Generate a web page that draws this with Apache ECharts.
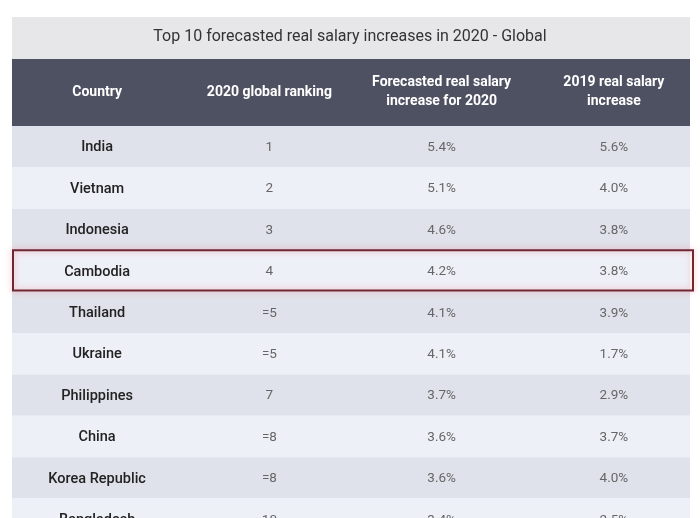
<!DOCTYPE html>
<html>
<head>
<meta charset="utf-8">
<script src="https://cdn.jsdelivr.net/npm/echarts@6/dist/echarts.min.js"></script>
<style>
html,body{margin:0;padding:0;background:#fff;}
#chart{width:700px;height:518px;}
</style>
</head>
<body>
<div id="chart"></div>
<script>
const chartTitle = 'Top 10 forecasted real salary increases in 2020 - Global';
const columns = ['Country', '2020 global ranking', 'Forecasted real salary\nincrease for 2020', '2019 real salary\nincrease'];
const countries = ['India', 'Vietnam', 'Indonesia', 'Cambodia', 'Thailand', 'Ukraine', 'Philippines', 'China', 'Korea Republic', 'Bangladesh'];
const rankings = ['1', '2', '3', '4', '=5', '=5', '7', '=8', '=8', '10'];
const forecast2020 = [5.4, 5.1, 4.6, 4.2, 4.1, 4.1, 3.7, 3.6, 3.6, 3.4];
const real2019 = [5.6, 4.0, 3.8, 3.8, 3.9, 1.7, 2.9, 3.7, 4.0, 2.5];
const highlighted = ['Cambodia'];

const FONT = 'Roboto, "Open Sans", sans-serif';

const rowData = countries.map((c, i) => [0, i]);
const highlightData = highlighted.map(c => [0, countries.indexOf(c)]);
const cellData = [];
countries.forEach((c, i) => {
  cellData.push([0, i, c, 1]);
  cellData.push([1, i, rankings[i], 0]);
  cellData.push([2, i, forecast2020[i].toFixed(1) + '%', 0]);
  cellData.push([3, i, real2019[i].toFixed(1) + '%', 0]);
});

const chart = echarts.init(document.getElementById('chart'), null, {renderer: 'canvas'});
chart.setOption({
  animation: false,
  backgroundColor: '#ffffff',
  title: {
    text: chartTitle,
    left: 'center',
    top: 29,
    padding: 0,
    textStyle: {fontFamily: FONT, fontSize: 16, fontWeight: 'normal', color: '#333333'}
  },
  graphic: [
    {type: 'rect', left: 12, top: 17, z: -10, shape: {width: 678, height: 42}, style: {fill: '#e7e7e9'}},
    {type: 'rect', left: 12, top: 59, z: -10, shape: {width: 678, height: 67}, style: {fill: '#4d5162'}}
  ],
  grid: [
    {left: 12, right: 10, top: 126, height: 414, containLabel: false, outerBoundsMode: 'none'},
    {left: 11, right: 0, top: 127, height: 414, containLabel: false, outerBoundsMode: 'none'}
  ],
  xAxis: [
    {gridIndex: 0, type: 'category', data: columns, show: false},
    {gridIndex: 1, type: 'category', data: columns, position: 'top', z: 10,
      axisLine: {show: false}, axisTick: {show: false}, splitLine: {show: false},
      axisLabel: {interval: 0, margin: 35, verticalAlign: 'middle', color: '#ffffff',
        fontFamily: FONT, fontSize: 14, fontWeight: 'bold', lineHeight: 19}}
  ],
  yAxis: [
    {gridIndex: 0, type: 'category', data: countries, inverse: true, show: false},
    {gridIndex: 1, type: 'category', data: countries, inverse: true, show: false}
  ],
  series: [
    {
      type: 'custom', xAxisIndex: 0, yAxisIndex: 0, z: 1, silent: true,
      data: rowData,
      renderItem: function (params, api) {
        const cs = params.coordSys;
        const p = api.coord([api.value(0), api.value(1)]);
        const h = api.size([0, 1])[1];
        return {type: 'rect', shape: {x: cs.x, y: p[1] - h / 2, width: cs.width, height: h},
          style: {fill: api.value(1) % 2 === 0 ? '#dfe2ea' : '#eef0f7'}};
      }
    },
    {
      type: 'custom', xAxisIndex: 0, yAxisIndex: 0, z: 3, silent: true,
      data: highlightData,
      renderItem: function (params, api) {
        const cs = params.coordSys;
        const p = api.coord([api.value(0), api.value(1)]);
        const h = api.size([0, 1])[1];
        return {type: 'rect', shape: {x: cs.x + 1, y: p[1] - h / 2, width: cs.width + 2, height: h - 1},
          style: {fill: 'none', stroke: '#6e2833', lineWidth: 2, shadowBlur: 6, shadowColor: 'rgba(255,90,110,0.55)'}};
      }
    },
    {
      type: 'custom', xAxisIndex: 1, yAxisIndex: 1, z: 5, silent: true,
      data: cellData,
      renderItem: function (params, api) {
        const p = api.coord([api.value(0), api.value(1)]);
        const isName = api.value(3) === 1;
        return {type: 'text', x: p[0], y: p[1],
          style: {text: cellData[params.dataIndex][2], align: 'center', verticalAlign: 'middle',
            fontFamily: FONT, fontSize: isName ? 14.5 : 13.5, fontWeight: isName ? 500 : 'normal',
            fill: isName ? '#222222' : '#666666'}};
      }
    }
  ]
});
</script>
</body>
</html>
